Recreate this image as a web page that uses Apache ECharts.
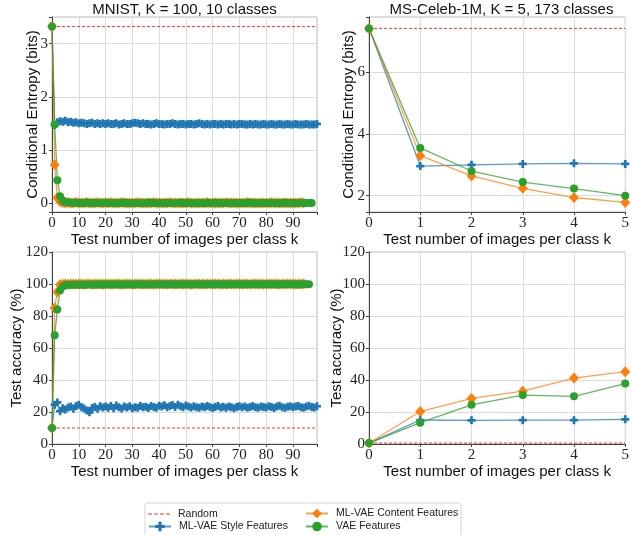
<!DOCTYPE html>
<html>
<head>
<meta charset="utf-8">
<script src="https://cdn.jsdelivr.net/npm/echarts@6/dist/echarts.min.js"></script>
<style>
html, body { margin: 0; padding: 0; background: #fff; }
#chart { width: 632px; height: 535px; }
</style>
</head>
<body>
<div id="chart"></div>
<script>
// test number of images per class k
var kMnist = Array.from({ length: 100 }, function (_, i) { return i; });
var kCeleb = [0, 1, 2, 3, 4, 5];

// random baselines
var randomEntMnist = 3.32;
var randomEntCeleb = 7.43;
var randomAccMnist = 10;
var randomAccCeleb = 0.58;

// MNIST, conditional entropy (bits)
var styleEntMnist = [3.32, 1.47, 1.52, 1.54, 1.53, 1.55, 1.52, 1.53, 1.51, 1.52, 1.50,
    1.51, 1.50, 1.49, 1.50, 1.51, 1.49, 1.50, 1.49, 1.50, 1.49,
    1.50, 1.49, 1.49, 1.50, 1.48, 1.49, 1.50, 1.49, 1.49, 1.50,
    1.51, 1.50, 1.49, 1.50, 1.49, 1.49, 1.48, 1.49, 1.50, 1.49,
    1.49, 1.48, 1.49, 1.49, 1.50, 1.49, 1.48, 1.49, 1.49, 1.48,
    1.49, 1.49, 1.48, 1.49, 1.50, 1.49, 1.48, 1.49, 1.48, 1.49,
    1.49, 1.48, 1.49, 1.48, 1.49, 1.49, 1.48, 1.49, 1.48, 1.49,
    1.49, 1.48, 1.48, 1.49, 1.48, 1.49, 1.48, 1.48, 1.49, 1.48,
    1.48, 1.49, 1.48, 1.48, 1.49, 1.48, 1.48, 1.49, 1.48, 1.48,
    1.49, 1.48, 1.48, 1.48, 1.49, 1.48, 1.48, 1.48, 1.49];
var contentEntMnist = [3.32, 0.72, 0.10, 0.03, 0.01,
    0.00, 0.01, 0.00, 0.00, 0.01, 0.00, 0.00, 0.00, 0.01, 0.00,
    0.00, 0.00, 0.01, 0.00, 0.00, 0.00, 0.00, 0.01, 0.00, 0.00,
    0.00, 0.01, 0.00, 0.00, 0.00, 0.00, 0.00, 0.01, 0.00, 0.00,
    0.00, 0.00, 0.00, 0.01, 0.00, 0.00, 0.00, 0.00, 0.00, 0.01,
    0.00, 0.00, 0.00, 0.00, 0.00, 0.00, 0.01, 0.00, 0.00, 0.00,
    0.00, 0.00, 0.00, 0.01, 0.00, 0.00, 0.00, 0.00, 0.00, 0.00,
    0.01, 0.00, 0.00, 0.00, 0.00, 0.00, 0.00, 0.00, 0.01, 0.00,
    0.00, 0.00, 0.00, 0.00, 0.00, 0.00, 0.00, 0.01, 0.00, 0.00,
    0.00, 0.00, 0.00, 0.00, 0.00, 0.00, 0.00, 0.00, 0.01, 0.00];
var vaeEntMnist = [3.32, 1.48, 0.43, 0.13, 0.05, 0.02, 0.01, 0.01,
    0.00, 0.01, 0.00, 0.00, 0.00, 0.01, 0.00, 0.00, 0.00, 0.00,
    0.00, 0.00, 0.01, 0.00, 0.00, 0.00, 0.00, 0.00, 0.00, 0.01,
    0.00, 0.00, 0.00, 0.00, 0.00, 0.00, 0.00, 0.00, 0.01, 0.00,
    0.00, 0.00, 0.00, 0.00, 0.00, 0.00, 0.00, 0.00, 0.00, 0.00,
    0.01, 0.00, 0.00, 0.00, 0.00, 0.00, 0.00, 0.00, 0.00, 0.00,
    0.00, 0.00, 0.00, 0.01, 0.00, 0.00, 0.00, 0.00, 0.00, 0.00,
    0.00, 0.00, 0.00, 0.00, 0.00, 0.00, 0.01, 0.00, 0.00, 0.00,
    0.00, 0.00, 0.00, 0.00, 0.00, 0.00, 0.00, 0.00, 0.00, 0.01,
    0.00, 0.00, 0.00, 0.00, 0.00, 0.00, 0.00, 0.00, 0.00, 0.00];

// MNIST, test accuracy (%)
var styleAccMnist = [10, 24.6, 26.0, 20.5, 22.3, 21.5, 22.8, 23.5, 22.0, 23.8, 24.5,
    23.0, 22.2, 21.0, 19.8, 22.5, 23.2, 22.0, 23.6, 22.8, 23.4,
    22.6, 23.8, 22.4, 24.0, 23.0, 22.2, 23.4, 22.8, 23.6, 22.4,
    23.0, 22.6, 23.8, 22.9, 23.3, 22.5, 23.7, 23.1, 22.7, 23.9,
    23.4, 24.2, 23.0, 23.8, 24.4, 23.2, 24.6, 23.6, 23.0, 24.0,
    23.4, 22.8, 23.6, 23.0, 22.6, 23.4, 22.9, 23.8, 23.2, 22.5,
    23.1, 23.7, 22.8, 23.3, 22.6, 23.5, 23.0, 22.4, 23.2, 23.6,
    22.9, 23.4, 22.7, 23.1, 23.8, 23.0, 22.6, 23.5, 23.2, 22.8,
    23.6, 23.1, 22.5, 23.4, 23.9, 23.0, 22.7, 23.3, 23.6, 22.9,
    23.4, 23.8, 23.0, 22.6, 23.5, 23.9, 23.2, 22.8, 23.6];
var contentAccMnist = [10, 85, 95, 99.5, 99.9,
    100, 99.9, 100, 100, 99.9, 100, 100, 99.9, 100, 100,
    99.9, 100, 100, 100, 99.9, 100, 100, 99.9, 100, 100,
    100, 99.9, 100, 100, 100, 99.9, 100, 100, 100, 99.9,
    100, 100, 100, 99.9, 100, 100, 100, 100, 99.9, 100,
    100, 100, 99.9, 100, 100, 100, 100, 99.9, 100, 100,
    100, 100, 99.9, 100, 100, 100, 100, 100, 99.9, 100,
    100, 100, 100, 99.9, 100, 100, 100, 100, 100, 99.9,
    100, 100, 100, 100, 99.9, 100, 100, 100, 100, 100,
    99.9, 100, 100, 100, 100, 100, 99.9, 100, 100, 100];
var vaeAccMnist = [10, 68, 84, 96, 98.4, 99.2, 99.5,
    99.6, 99.5, 99.7, 99.6, 99.7, 99.6, 99.7, 99.8, 99.6, 99.7,
    99.7, 99.8, 99.6, 99.7, 99.8, 99.7, 99.7, 99.8, 99.7, 99.6,
    99.8, 99.7, 99.8, 99.7, 99.7, 99.8, 99.7, 99.8, 99.7, 99.7,
    99.8, 99.7, 99.8, 99.8, 99.7, 99.8, 99.7, 99.8, 99.8, 99.7,
    99.8, 99.8, 99.7, 99.8, 99.8, 99.7, 99.8, 99.8, 99.8, 99.7,
    99.8, 99.8, 99.8, 99.7, 99.8, 99.8, 99.8, 99.8, 99.7, 99.8,
    99.8, 99.8, 99.8, 99.8, 99.7, 99.8, 99.8, 99.8, 99.8, 99.8,
    99.7, 99.8, 99.8, 99.8, 99.8, 99.8, 99.8, 99.7, 99.8, 99.8,
    99.8, 99.8, 99.8, 99.8, 99.8, 99.7, 99.8, 99.8, 99.8, 99.8];

// MS-Celeb-1M
var styleEntCeleb = [7.43, 2.96, 3.00, 3.03, 3.05, 3.03];
var contentEntCeleb = [7.43, 3.30, 2.64, 2.24, 1.94, 1.78];
var vaeEntCeleb = [7.43, 3.55, 2.80, 2.44, 2.23, 2.00];
var styleAccCeleb = [0.6, 15.0, 14.8, 14.9, 14.9, 15.4];
var contentAccCeleb = [0.6, 20.3, 28.5, 33.0, 41.2, 45.2];
var vaeAccCeleb = [0.6, 13.3, 24.5, 30.6, 29.8, 37.8];

var BLUE = '#1f77b4', ORANGE = '#ff7f0e', GREEN = '#2ca02c', RED = '#ff3030';
var PLUS = 'path://M1,0H2V1H3V2H2V3H1V2H0V1H1Z';
// dashed stroke for the legend, with hair-size corners so it keeps a 22x12 box
var DASH = 'path://M0,0H0.01V0.01H0Z M0,5.5H4V6.5H0Z M6,5.5H10V6.5H6Z M12,5.5H16V6.5H12Z M18,5.5H22V6.5H18Z M21.99,11.99H22V12H21.99Z';
var SANS = 'Liberation Sans', SERIF = 'Liberation Serif';

var dom = document.getElementById('chart');
var myChart = echarts.init(dom, null, { renderer: 'canvas' });

function pairs(xs, ys) {
    return xs.map(function (x, i) { return [x, ys[i]]; });
}

function mark(name, idx, xs, ys, color, symbol, size) {
    return {
        name: name, type: 'line', xAxisIndex: idx, yAxisIndex: idx,
        data: pairs(xs, ys),
        symbol: symbol, symbolSize: size, showAllSymbol: true, clip: false,
        itemStyle: { color: color },
        lineStyle: { color: color, width: 1.3, opacity: 0.75 },
        emphasis: { disabled: true }
    };
}

function randomLine(idx, xs, r) {
    return {
        name: 'Random', type: 'line', xAxisIndex: idx, yAxisIndex: idx,
        data: [[xs[0], r], [xs[xs.length - 1], r]],
        symbol: 'none', clip: false,
        itemStyle: { color: RED },
        lineStyle: { color: RED, width: 1, type: [3, 2] },
        emphasis: { disabled: true }
    };
}

function labelFmt(step) {
    return function (v) {
        var q = v / step;
        return Math.abs(q - Math.round(q)) < 1e-6 ? String(Math.round(v)) : '';
    };
}

function axisBase(idx, name, gap, step) {
    return {
        type: 'value', gridIndex: idx,
        name: name, nameLocation: 'middle', nameGap: gap,
        nameTextStyle: { fontFamily: SANS, fontSize: 15, color: '#111' },
        axisLine: { show: true, onZero: false, lineStyle: { color: '#444', width: 1 } },
        axisTick: { show: true, length: 3, lineStyle: { color: '#444' } },
        axisLabel: { margin: 4, fontFamily: SERIF, fontSize: 15, color: '#222', formatter: labelFmt(step) },
        splitLine: { show: true, lineStyle: { color: '#dcdcdc', width: 1 } }
    };
}

var xName = 'Test number of images per class k';
var xAxes = [
    Object.assign(axisBase(0, xName, 17, 10), { min: 0, max: 99, interval: 10 }),
    Object.assign(axisBase(1, xName, 17, 1), { min: 0, max: 5, interval: 1 }),
    Object.assign(axisBase(2, xName, 17, 10), { min: 0, max: 99, interval: 10 }),
    Object.assign(axisBase(3, xName, 17, 1), { min: 0, max: 5, interval: 1 })
];
var yAxes = [
    Object.assign(axisBase(0, 'Conditional Entropy (bits)', 12, 1), { min: -0.167, max: 3.50, splitNumber: 4, nameMoveOverlap: false }),
    Object.assign(axisBase(1, 'Conditional Entropy (bits)', 13, 2), { min: 1.47, max: 7.80, splitNumber: 3, nameMoveOverlap: false }),
    Object.assign(axisBase(2, 'Test accuracy (%)', 28, 20), { min: 0, max: 120, interval: 20, nameMoveOverlap: false }),
    Object.assign(axisBase(3, 'Test accuracy (%)', 25, 20), { min: 0, max: 120, interval: 20, nameMoveOverlap: false })
];

var legendText = { fontFamily: SANS, fontSize: 10.5, color: '#222', padding: [0, 0, 0, 3] };

function legendItem(name, left, top, icon) {
    var item = { name: name };
    if (icon) { item.icon = icon; }
    return {
        data: [item], orient: 'horizontal', left: left, top: top,
        itemWidth: 22, itemHeight: 12, padding: 0,
        selectedMode: false, textStyle: legendText
    };
}

var option = {
    animation: false,
    backgroundColor: '#fff',
    grid: [
        { left: 52, top: 17, width: 265, height: 195, show: true, borderColor: '#bdbdbd', borderWidth: 1 },
        { left: 369, top: 17, width: 265, height: 195, show: true, borderColor: '#bdbdbd', borderWidth: 1 },
        { left: 52, top: 252, width: 265, height: 192, show: true, borderColor: '#bdbdbd', borderWidth: 1 },
        { left: 369, top: 252, width: 265, height: 192, show: true, borderColor: '#bdbdbd', borderWidth: 1 }
    ],
    xAxis: xAxes,
    yAxis: yAxes,
    legend: [
        legendItem('Random', 148, 508, DASH),
        legendItem('ML-VAE Style Features', 148, 521),
        legendItem('ML-VAE Content Features', 305, 508),
        legendItem('VAE Features', 305, 521)
    ],
    graphic: [
        { type: 'rect', z: 0, shape: { x: 145, y: 503, width: 316, height: 40, r: 3 },
          style: { fill: '#fff', stroke: '#d5d5d5', lineWidth: 1 } },
        { type: 'text', x: 184.5, y: 2,
          style: { text: 'MNIST, K = 100, 10 classes', font: '15px "Liberation Sans"', fill: '#111', textAlign: 'center', textVerticalAlign: 'top' } },
        { type: 'text', x: 501.5, y: 2,
          style: { text: 'MS-Celeb-1M, K = 5, 173 classes', font: '15px "Liberation Sans"', fill: '#111', textAlign: 'center', textVerticalAlign: 'top' } }
    ],
    series: [
        randomLine(0, kMnist, randomEntMnist),
        mark('ML-VAE Style Features', 0, kMnist, styleEntMnist, BLUE, PLUS, 8),
        mark('ML-VAE Content Features', 0, kMnist, contentEntMnist, ORANGE, 'diamond', [10, 11]),
        mark('VAE Features', 0, kMnist, vaeEntMnist, GREEN, 'circle', 8),

        randomLine(1, kCeleb, randomEntCeleb),
        mark('ML-VAE Style Features', 1, kCeleb, styleEntCeleb, BLUE, PLUS, 8),
        mark('ML-VAE Content Features', 1, kCeleb, contentEntCeleb, ORANGE, 'diamond', [10, 11]),
        mark('VAE Features', 1, kCeleb, vaeEntCeleb, GREEN, 'circle', 8),

        randomLine(2, kMnist, randomAccMnist),
        mark('ML-VAE Style Features', 2, kMnist, styleAccMnist, BLUE, PLUS, 8),
        mark('ML-VAE Content Features', 2, kMnist, contentAccMnist, ORANGE, 'diamond', [10, 11]),
        mark('VAE Features', 2, kMnist, vaeAccMnist, GREEN, 'circle', 8),

        randomLine(3, kCeleb, randomAccCeleb),
        mark('ML-VAE Style Features', 3, kCeleb, styleAccCeleb, BLUE, PLUS, 8),
        mark('ML-VAE Content Features', 3, kCeleb, contentAccCeleb, ORANGE, 'diamond', [10, 11]),
        mark('VAE Features', 3, kCeleb, vaeAccCeleb, GREEN, 'circle', 8)
    ]
};

myChart.setOption(option);
window.addEventListener('resize', myChart.resize);
</script>
</body>
</html>
